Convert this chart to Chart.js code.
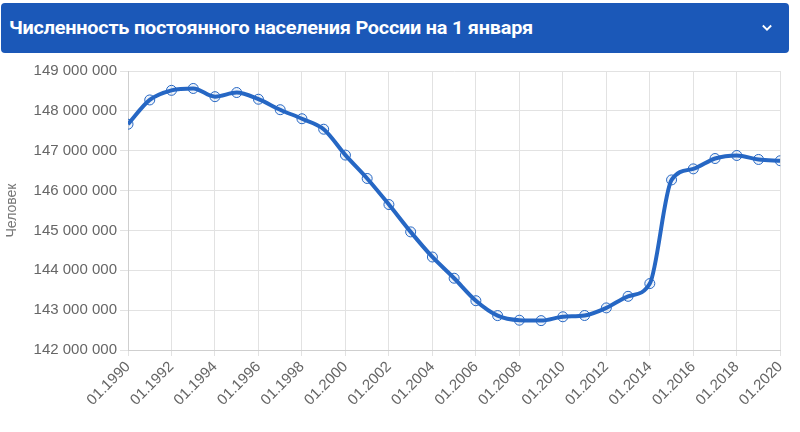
<!DOCTYPE html>
<html>
<head>
<meta charset="utf-8">
<script src="https://cdn.jsdelivr.net/npm/chart.js@4"></script>
<style>
  body { margin: 0; background: #fff; width: 800px; height: 432px; overflow: hidden; font-family: "Liberation Sans", Arial, sans-serif; }
  .header {
    position: absolute; left: 1px; top: 3px; width: 788px; height: 50px;
    background: #1b58b8; border-radius: 4px; color: #fff;
  }
  .title {
    position: absolute; left: 8px; top: 14px;
    font-family: Roboto, sans-serif; font-weight: bold; font-size: 18px;
    transform-origin: left top; white-space: nowrap; letter-spacing: -0.2px;
  }
  .chev { position: absolute; right: 17px; top: 20px; width: 10px; height: 10px; }
  .wrap { position: absolute; left: 0; top: 56px; width: 795px; height: 376px; }
</style>
</head>
<body>
<div class="header">
  <div class="title" id="title">Численность постоянного населения России на 1 января</div>
  <svg class="chev" viewBox="0 0 12 8"><path d="M1 1 L6 6 L11 1" stroke="#fff" stroke-width="2.2" fill="none"/></svg>
</div>
<div class="wrap"><canvas id="chart"></canvas></div>
<script>
const years = [1990, 1991, 1992, 1993, 1994, 1995, 1996, 1997, 1998, 1999,
  2000, 2001, 2002, 2003, 2004, 2005, 2006, 2007, 2008, 2009,
  2010, 2011, 2012, 2013, 2014, 2015, 2016, 2017, 2018, 2019, 2020];
const population = [147665081, 148273746, 148514692, 148561694, 148355867, 148459937, 148291638, 148028613, 147802133, 147539426,
  146890128, 146303611, 145649334, 144963650, 144333586, 143801046, 143236582, 142862692, 142747535, 142737196,
  142833502, 142865433, 143056383, 143347059, 143666931, 146267288, 146544710, 146804372, 146880432, 146780720, 146748590];

// fit title width to the reference
const t = document.getElementById("title");
t.style.transform = "scaleX(" + (524 / t.scrollWidth) + ")";

const fmt = (v) => String(v).replace(/\B(?=(\d{3})+(?!\d))/g, " ");

new Chart(document.getElementById("chart").getContext("2d"), {
  type: "line",
  data: {
    datasets: [{
      data: years.map((y, i) => ({ x: y, y: population[i] })),
      borderColor: "#2667c4",
      backgroundColor: "rgba(38,103,196,0.08)",
      borderWidth: 4,
      cubicInterpolationMode: "monotone",
      pointRadius: 5,
      pointBorderWidth: 1,
      pointBorderColor: "#2667c4",
      pointBackgroundColor: "rgba(38,103,196,0.08)",
      fill: false,
    }],
  },
  options: {
    responsive: true,
    maintainAspectRatio: false,
    animation: false,
    layout: { padding: { top: 15, right: 6, left: 0, bottom: 0 } },
    plugins: { legend: { display: false }, tooltip: { enabled: false } },
    scales: {
      x: {
        type: "linear",
        min: 1990, max: 2020,
        afterFit: (s) => { s.height = 82; },
        ticks: {
          stepSize: 2,
          minRotation: 45, maxRotation: 45,
          color: "#666",
          font: { family: "Liberation Sans", size: 15 },
          padding: 2,
          callback: (v) => "01." + v,
        },
        grid: { color: "#e2e2e2", tickLength: 6 },
        border: { color: "#cfcfcf" },
      },
      y: {
        min: 142000000, max: 149000000,
        afterFit: (s) => { s.width = 128; },
        ticks: {
          stepSize: 1000000,
          color: "#666",
          font: { family: "Liberation Sans", size: 15 },
          padding: 3,
          callback: (v) => fmt(v),
        },
        title: {
          display: true, text: "Человек", color: "#777",
          font: { family: "Liberation Sans", size: 14 },
          padding: { top: 4, bottom: 0 },
        },
        grid: { color: "#e2e2e2", tickLength: 8 },
        border: { color: "#cfcfcf" },
      },
    },
  },
});
</script>
</body>
</html>
